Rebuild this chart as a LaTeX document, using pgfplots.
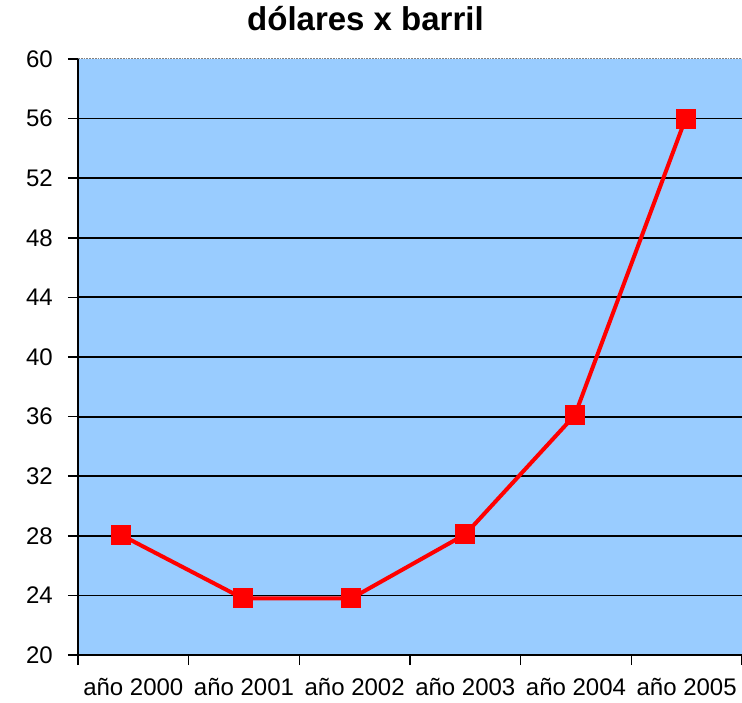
\documentclass[border=0pt]{standalone}
\usepackage{pgfplots}
\pgfplotsset{compat=1.18}
\usepackage{fontspec}
\setmainfont{Liberation Sans}
\definecolor{plotbg}{HTML}{99CCFF}
\definecolor{linered}{HTML}{FF0000}
\begin{document}
\begin{tikzpicture}
\useasboundingbox (0,0) rectangle (742pt,702pt);
\begin{axis}[
  at={(78pt,47pt)}, anchor=south west,
  scale only axis,
  width=664pt, height=596pt,
  xmin=0, xmax=6, ymin=20, ymax=60,
  axis x line*=bottom, axis y line*=left,
  axis line style={black, line width=1.6pt, -},
  axis background/.style={fill=plotbg},
  ytick={20,24,...,56},
  extra y ticks={60},
  extra y tick style={grid style={gray, densely dotted, line width=1pt}},
  ymajorgrids,
  grid style={black, line width=1.8pt},
  xtick={0,...,6},
  xticklabels={},
  extra x ticks={0.5,1.5,2.5,3.5,4.5,5.5},
  extra x tick labels={año 2000,año 2001,año 2002,año 2003,año 2004,año 2005},
  extra x tick style={major tick length=0pt, grid=none},
  tick align=outside,
  major tick length=10pt,
  tick style={black, line width=1.6pt},
  /pgf/number format/assume math mode=true,
  tick label style={font=\fontsize{24}{28}\selectfont},
  y tick label style={anchor=east, inner sep=0pt, xshift=-15pt},
  x tick label style={anchor=base, inner sep=0pt, yshift=-40pt},
  title={dólares x barril},
  title style={font=\bfseries\fontsize{33}{40}\selectfont, inner sep=0pt, anchor=base, at={(0.5,1)}, yshift=22pt, xshift=-44.5pt},
  clip=false,
]
\addplot[color=linered, line width=4pt, mark=square*, mark size=9.5pt, mark options={fill=linered, draw=linered, line width=0pt}]
  coordinates {(0.39,28.05) (1.49,23.8) (2.47,23.8) (3.5,28.1) (4.49,36.1) (5.49,56)};
\end{axis}
\end{tikzpicture}
\end{document}
